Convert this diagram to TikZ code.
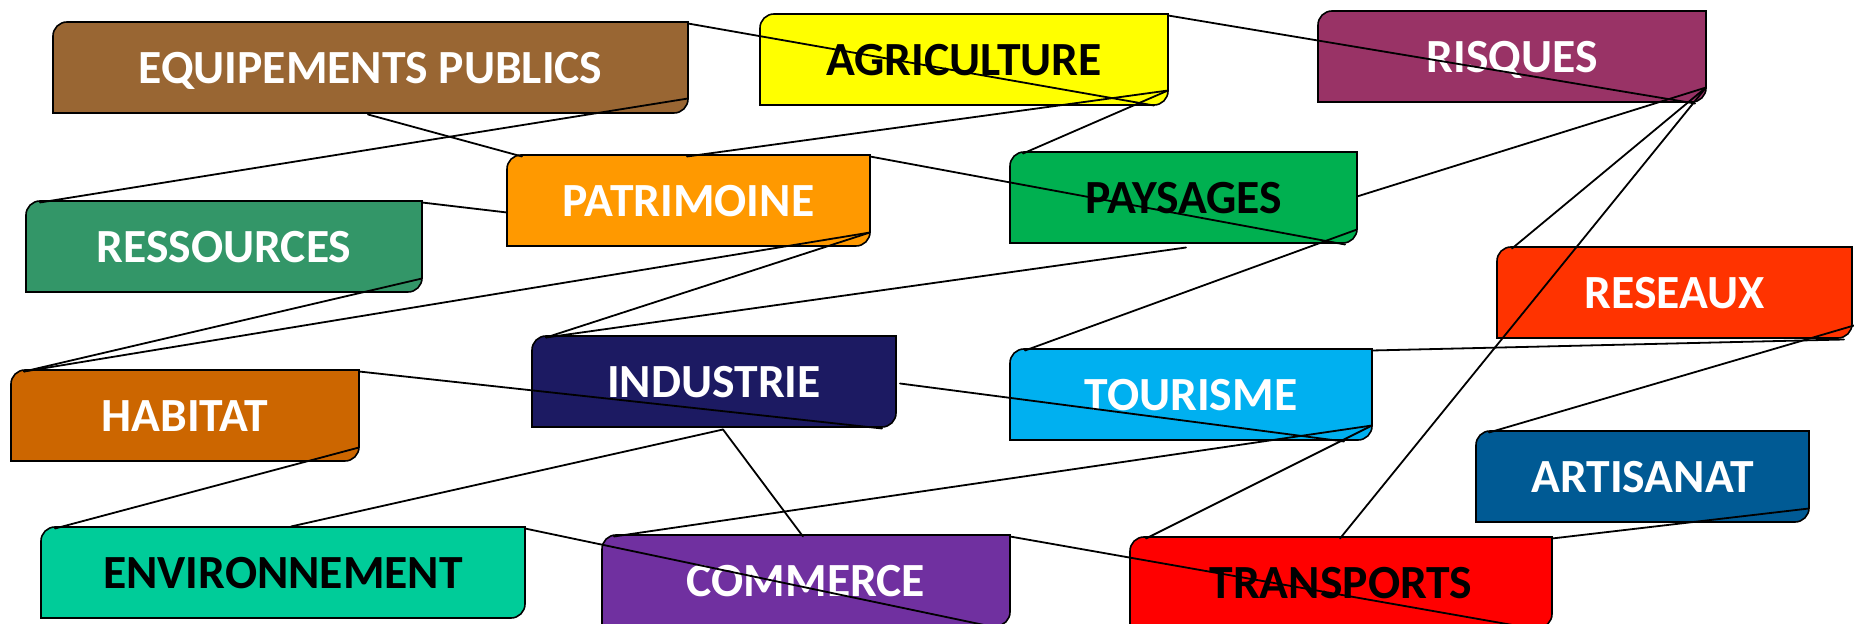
\documentclass[tikz,border=0pt]{standalone}
\usepackage{fontspec}
\setmainfont{Carlito}
\usetikzlibrary{calc}
\definecolor{cEq}{RGB}{153,102,51}
\definecolor{cAgr}{RGB}{255,255,0}
\definecolor{cRis}{RGB}{153,51,102}
\definecolor{cRes}{RGB}{51,150,104}
\definecolor{cPat}{RGB}{255,153,0}
\definecolor{cPay}{RGB}{0,176,80}
\definecolor{cRsx}{RGB}{255,51,0}
\definecolor{cHab}{RGB}{204,102,0}
\definecolor{cInd}{RGB}{28,26,98}
\definecolor{cTou}{RGB}{0,176,240}
\definecolor{cArt}{RGB}{0,90,148}
\definecolor{cEnv}{RGB}{0,204,153}
\definecolor{cCom}{RGB}{112,48,160}
\definecolor{cTra}{RGB}{255,0,0}
\tikzset{
  boxline/.style={draw=black, line width=0.8pt},
  lbl/.style={inner sep=0pt, outer sep=0pt, font=\fontsize{23.8}{28}\selectfont\bfseries,
              text height=15pt, text depth=0pt, align=center},
  link/.style={draw=black, line width=0.9pt, line cap=round},
}
\newcommand{\mybox}[8]{%
  \draw[boxline, fill=#6] ({#2},{#5}) -- ({#2},{#3+14})
     .. controls ({#2},{#3+6.3}) and ({#2+6.3},{#3}) .. ({#2+14},{#3})
     -- ({#4},{#3}) -- ({#4},{#5-14})
     .. controls ({#4},{#5-6.3}) and ({#4-6.3},{#5}) .. ({#4-14},{#5}) -- cycle;
  \node[lbl, text=#7, minimum width={(#4-#2)*0.5pt}, minimum height={(#5-#3)*0.5pt}]
     (#1) at ({(#2+#4)/2},{(#3+#5)/2+1.5}) {#8};
}
\begin{document}
\begin{tikzpicture}[x=0.5pt, y=-0.5pt]
\useasboundingbox (0,0) rectangle (1854,624);
\clip (0,0) rectangle (1854,624);
% boxes
\mybox{eq}{53}{22}{688}{113}{cEq}{white}{EQUIPEMENTS PUBLICS}
\mybox{agr}{760}{14}{1168}{105}{cAgr}{black}{AGRICULTURE}
\mybox{ris}{1318}{11}{1706}{102}{cRis}{white}{RISQUES}
\mybox{res}{26}{201}{422}{292}{cRes}{white}{RESSOURCES}
\mybox{pat}{507}{155}{870}{246}{cPat}{white}{PATRIMOINE}
\mybox{pay}{1010}{152}{1357}{243}{cPay}{black}{PAYSAGES}
\mybox{rsx}{1497}{247}{1852}{338}{cRsx}{white}{RESEAUX}
\mybox{hab}{11}{370}{359}{461}{cHab}{white}{HABITAT}
\mybox{ind}{532}{336}{896}{427}{cInd}{white}{INDUSTRIE}
\mybox{tou}{1010}{349}{1372}{440}{cTou}{white}{TOURISME}
\mybox{art}{1476}{431}{1809}{522}{cArt}{white}{ARTISANAT}
\mybox{env}{41}{527}{525}{618}{cEnv}{black}{ENVIRONNEMENT}
\mybox{com}{602}{535}{1010}{626}{cCom}{white}{COMMERCE}
\mybox{tra}{1130}{537}{1552}{628}{cTra}{black}{TRANSPORTS}
% connectors
\draw[link] ($(eq.south west)+(315,0)$) -- ($(pat.north west)+(15,0)$);
\draw[link] ($(res.north west)+(14,0)$) -- ($(eq.south east)+(0,-16)$);
\draw[link] (res.north east) -- ($(pat.north west)+(0,56)$);
\draw[link] (eq.north east) -- ($(agr.south east)+(-14,-1)$);
\draw[link] ($(agr.south east)+(0,-16)$) -- ($(pat.north west)+(180,0)$);
\draw[link] ($(agr.south east)+(0,-16)$) -- ($(pay.north west)+(13,0)$);
\draw[link] (agr.north east) -- ($(ris.south east)+(-11,0)$);
\draw[link] (pat.north east) -- ($(pay.south east)+(-12,0)$);
\draw[link] ($(pay.north east)+(0,43)$) -- ($(ris.south east)+(0,-16)$);
\draw[link] ($(pay.south east)+(0,-15)$) -- ($(tou.north west)+(15,0)$);
\draw[link] ($(ris.south east)+(0,-16)$) -- ($(rsx.north west)+(15,0)$);
\draw[link] ($(ris.south east)+(0,-16)$) -- ($(tra.north west)+(210,0)$);
\draw[link] ($(pat.south east)+(0,-15)$) -- ($(hab.north west)+(13,0)$);
\draw[link] ($(pat.south east)+(0,-15)$) -- ($(ind.north west)+(14,0)$);
\draw[link] ($(res.south east)+(0,-15)$) -- ($(hab.north west)+(13,0)$);
\draw[link] ($(pay.south west)+(176,3)$) -- ($(ind.north west)+(14,0)$);
\draw[link] (hab.north east) -- ($(ind.south east)+(-14,0)$);
\draw[link] ($(hab.south east)+(0,-15)$) -- ($(env.north west)+(14,0)$);
\draw[link] ($(ind.south west)+(191,1)$) -- ($(env.north west)+(250,-2)$);
\draw[link] ($(ind.south west)+(191,1)$) -- ($(com.north west)+(201,0)$);
\draw[link] ($(ind.north east)+(4,46)$) -- ($(tou.south east)+(-28,0)$);
\draw[link] ($(tou.south east)+(0,-16)$) -- ($(com.north west)+(12,0)$);
\draw[link] ($(tou.south east)+(0,-16)$) -- ($(tra.north west)+(16,0)$);
\draw[link] (tou.north east) -- ($(rsx.south east)+(-8,0)$);
\draw[link] ($(art.north west)+(13,0)$) -- ($(rsx.south east)+(2,-14)$);
\draw[link] ($(art.south east)+(0,-15)$) -- (tra.north east);
\draw[link] (env.north east) -- ($(com.south east)+(-14,0)$);
\draw[link] (com.north east) -- ($(tra.south east)+(-14,0)$);
\end{tikzpicture}
\end{document}
